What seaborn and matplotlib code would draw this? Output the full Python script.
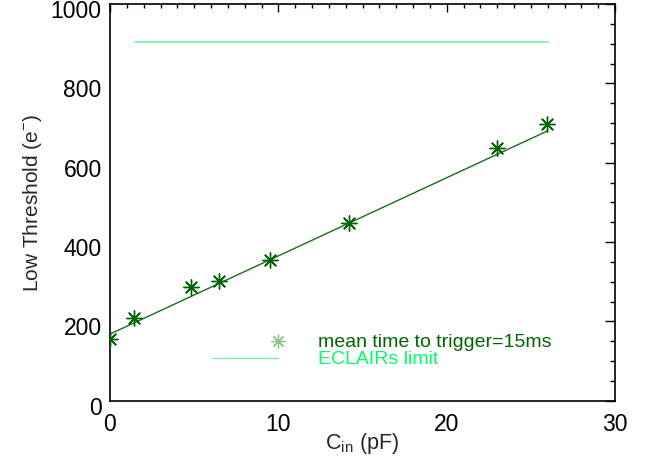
import numpy as np
import pandas as pd
import matplotlib
matplotlib.use("Agg")
import matplotlib.pyplot as plt
import matplotlib.transforms as mtransforms
from matplotlib.ticker import MultipleLocator
import seaborn as sns

# Data
c_in = [0.0, 1.45, 4.8, 6.5, 9.5, 14.2, 23.0, 25.95]
low_threshold = [155, 208, 287, 301, 354, 447, 638, 697]
fit_x = [0.0, 26.0]
fit_intercept = 168.0
fit_slope = 19.7
limit_x = [1.5, 26.0]
limit_y = [905, 905]
legend_labels = ["mean time to trigger=15ms", "ECLAIRs limit"]

dark_green = "#006400"
light_green = "#00ff66"
limit_line_color = "#7cf0a4"

sns.set_theme(style="white")
plt.rcParams['font.family'] = ['Liberation Sans', 'DejaVu Sans']

fig = plt.figure(figsize=(6.49, 4.64), dpi=100)
ax = fig.add_axes([110/649, 1 - 401.7/464, (615-110)/649, (401.7-5)/464])

df = pd.DataFrame({"C": c_in, "T": low_threshold})
fit_df = pd.DataFrame({"x": fit_x, "y": [fit_intercept + fit_slope * x for x in fit_x]})
lim_df = pd.DataFrame({"x": limit_x, "y": limit_y})

sns.lineplot(data=fit_df, x="x", y="y", ax=ax, color="#1a6e1a", linewidth=1.0)
sns.lineplot(data=lim_df, x="x", y="y", ax=ax, color=limit_line_color, linewidth=1.3)
sns.scatterplot(data=df, x="C", y="T", ax=ax, marker=(8, 2, 0), s=120,
                color=dark_green, edgecolor=dark_green, linewidth=1.0, zorder=5)

# legend drawn in axes coordinates
ax.plot([0.333], [0.150], transform=ax.transAxes, marker=(8, 2, 0), markersize=10,
        color="#8cc48c", markeredgewidth=0.9, linestyle="none", clip_on=False)
ax.plot([0.202, 0.333], [0.107, 0.107], transform=ax.transAxes,
        color=limit_line_color, linewidth=1.0, clip_on=False)
ax.text(0.412, 0.150, legend_labels[0], transform=ax.transAxes, color=dark_green,
        fontsize=14, va="center", ha="left")
ax.text(0.412, 0.107, legend_labels[1], transform=ax.transAxes, color=light_green,
        fontsize=14, va="center", ha="left")

ax.set_xlim(0, 30)
ax.set_ylim(0, 1000)
ax.xaxis.set_major_locator(MultipleLocator(10))
ax.xaxis.set_minor_locator(MultipleLocator(1))
ax.yaxis.set_major_locator(MultipleLocator(200))
ax.yaxis.set_minor_locator(MultipleLocator(50))
ax.tick_params(axis="both", which="both", direction="in", top=True, right=True,
               colors="black", labelsize=16.5, width=1.0)
ax.tick_params(axis="x", which="major", length=6, pad=8)
ax.tick_params(axis="x", which="minor", length=3)
ax.tick_params(axis="y", which="major", length=7.5, pad=6)
ax.tick_params(axis="y", which="minor", length=3.75)
for s in ax.spines.values():
    s.set_color("black")
    s.set_linewidth(1.2)

offset = mtransforms.ScaledTranslation(0, -4/100, fig.dpi_scale_trans)
for lab in ax.get_yticklabels():
    lab.set_transform(lab.get_transform() + offset)

ax.set_xlabel(r"C$_{\mathregular{in}}$ (pF)", fontsize=15.5)
ax.set_ylabel(r"Low Threshold (e$^{\mathregular{-}}$)", fontsize=15)
ax.xaxis.set_label_coords(0.5, -0.075)
ax.yaxis.set_label_coords(-0.13, 0.5)

fig.savefig("out.png", dpi=100, facecolor="white")
